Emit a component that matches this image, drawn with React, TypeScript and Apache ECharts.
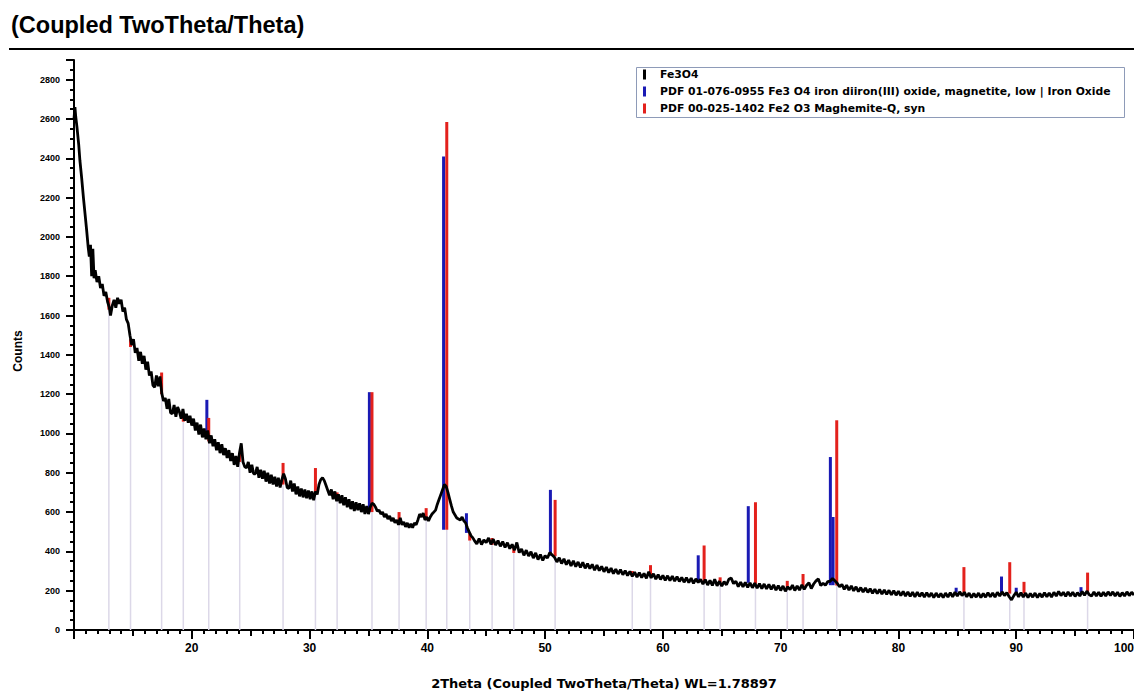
import React, { useEffect, useRef } from 'react';
import * as echarts from 'echarts';

const titleText = '(Coupled TwoTheta/Theta)';
const xAxisTitle = '2Theta (Coupled TwoTheta/Theta) WL=1.78897';
const yAxisTitle = 'Counts';
const scanLabel = 'Fe3O4';
const magnetiteLabel = 'PDF 01-076-0955 Fe3 O4 iron diiron(III) oxide, magnetite, low | Iron Oxide';
const maghemiteLabel = 'PDF 00-025-1402 Fe2 O3 Maghemite-Q, syn';

// measured scan, low-angle part: [2theta, counts]
const scanLow: number[][] = [
  [10.0, 2600], [10.08, 2660], [10.15, 2610], [10.25, 2560], [10.4, 2470], [10.5, 2390], [10.65, 2300], [10.8, 2200],
  [10.95, 2110], [11.08, 2030], [11.2, 1950], [11.3, 1900], [11.4, 1960], [11.5, 1800], [11.6, 1940], [11.7, 1790],
  [11.8, 1830], [11.95, 1770], [12.1, 1800], [12.25, 1740], [12.4, 1760], [12.55, 1700], [12.7, 1720], [12.85, 1670],
  [13.0, 1640], [13.1, 1600], [13.25, 1650], [13.4, 1680], [13.55, 1640], [13.7, 1690], [13.85, 1660], [14.0, 1680],
  [14.15, 1620], [14.3, 1640], [14.45, 1580], [14.6, 1560], [14.75, 1500], [14.9, 1450], [15.05, 1480], [15.2, 1410],
  [15.35, 1435], [15.5, 1370], [15.65, 1415], [15.8, 1355], [15.95, 1395], [16.1, 1325], [16.25, 1365], [16.4, 1295],
  [16.55, 1315], [16.7, 1245], [16.85, 1235], [17.0, 1295], [17.15, 1240], [17.3, 1290], [17.45, 1205], [17.6, 1165],
  [17.75, 1180], [17.9, 1125], [18.05, 1175], [18.2, 1105], [18.35, 1100], [18.5, 1145], [18.65, 1085], [18.8, 1135],
  [18.95, 1110], [19.1, 1075], [19.25, 1125], [19.4, 1065], [19.55, 1100], [19.7, 1055], [19.85, 1090], [20.0, 1040],
  [20.15, 1075], [20.3, 1015], [20.45, 1055], [20.6, 995], [20.75, 1045], [20.9, 980], [21.05, 1025], [21.2, 970],
  [21.35, 1015], [21.5, 950], [21.65, 990], [21.8, 935], [21.95, 970], [22.1, 915], [22.25, 955], [22.4, 900],
  [22.55, 945], [22.7, 890], [22.85, 925], [23.0, 875], [23.15, 915], [23.3, 860], [23.45, 900], [23.6, 840],
  [23.75, 885], [23.9, 830], [24.05, 900], [24.2, 950], [24.35, 855], [24.5, 830], [24.65, 825], [24.8, 855],
  [24.95, 800], [25.1, 840], [25.25, 795], [25.4, 795], [25.55, 830], [25.7, 775], [25.85, 815], [26.0, 770],
  [26.15, 810], [26.3, 755], [26.45, 800], [26.6, 745], [26.75, 790], [26.9, 740], [27.05, 780], [27.2, 730],
  [27.35, 775], [27.5, 725], [27.65, 765], [27.8, 795], [27.95, 770], [28.1, 725], [28.25, 720], [28.4, 760],
  [28.55, 705], [28.7, 745], [28.85, 690], [29.0, 730], [29.15, 680], [29.3, 720], [29.45, 675], [29.6, 715],
  [29.75, 670], [29.9, 710], [30.05, 665], [30.2, 705], [30.35, 660], [30.5, 705], [30.65, 690], [30.8, 740],
  [30.95, 765], [31.1, 775], [31.25, 760], [31.4, 735], [31.55, 710], [31.7, 685], [31.85, 715], [32.0, 665],
  [32.15, 705], [32.3, 655], [32.45, 690], [32.6, 645], [32.75, 685], [32.9, 635], [33.05, 675], [33.2, 625],
  [33.35, 665], [33.5, 615], [33.65, 655], [33.8, 605], [33.95, 650], [34.1, 610], [34.25, 645], [34.4, 600],
  [34.55, 640], [34.7, 590], [34.85, 630], [35.0, 590], [35.15, 625], [35.3, 645], [35.45, 640], [35.6, 625],
  [35.75, 605], [35.9, 610], [36.05, 590], [36.2, 600], [36.35, 575], [36.5, 590], [36.65, 565], [36.8, 580],
  [36.95, 555], [37.1, 570], [37.25, 545], [37.4, 560], [37.55, 535], [37.7, 570], [37.85, 535], [38.0, 550],
  [38.15, 525], [38.3, 545], [38.45, 520], [38.6, 540], [38.75, 520], [38.9, 545], [39.05, 535], [39.2, 560],
  [39.35, 590], [39.5, 575], [39.65, 595], [39.8, 560], [39.95, 575], [40.1, 555], [40.25, 575], [40.4, 590],
  [40.55, 600], [40.7, 610], [40.85, 640], [41.0, 665], [41.15, 690], [41.3, 715], [41.45, 740], [41.6, 730],
  [41.75, 700], [41.9, 665], [42.05, 630], [42.2, 600], [42.35, 585], [42.5, 570], [42.65, 565], [42.8, 560],
  [42.95, 575], [43.1, 555], [43.25, 545], [43.4, 520], [43.55, 500], [43.7, 480], [43.85, 470],
];

// measured scan, high-angle part: [2theta, counts]
const scanHigh: number[][] = [
  [44.0, 455], [44.2, 438], [44.4, 465], [44.6, 435], [44.8, 458], [45.0, 445], [45.2, 468], [45.4, 436],
  [45.6, 462], [45.8, 432], [46.0, 455], [46.2, 426], [46.4, 450], [46.6, 420], [46.8, 444], [47.0, 414],
  [47.2, 436], [47.4, 406], [47.6, 445], [47.8, 394], [48.0, 412], [48.2, 380], [48.4, 406], [48.6, 376],
  [48.8, 398], [49.0, 366], [49.2, 392], [49.4, 358], [49.6, 384], [49.8, 354], [50.0, 378], [50.2, 366],
  [50.4, 394], [50.6, 382], [50.8, 370], [51.0, 346], [51.2, 368], [51.4, 338], [51.6, 362], [51.8, 332],
  [52.0, 356], [52.2, 326], [52.4, 352], [52.6, 322], [52.8, 346], [53.0, 318], [53.2, 344], [53.4, 314],
  [53.6, 338], [53.8, 312], [54.0, 334], [54.2, 304], [54.4, 330], [54.6, 302], [54.8, 324], [55.0, 296],
  [55.2, 320], [55.4, 292], [55.6, 315], [55.8, 287], [56.0, 310], [56.2, 285], [56.4, 307], [56.6, 281],
  [56.8, 302], [57.0, 277], [57.2, 298], [57.4, 273], [57.6, 294], [57.8, 269], [58.0, 292], [58.2, 267],
  [58.4, 288], [58.6, 263], [58.8, 296], [59.0, 265], [59.2, 286], [59.4, 259], [59.6, 282], [59.8, 257],
  [60.0, 278], [60.2, 253], [60.4, 276], [60.6, 251], [60.8, 274], [61.0, 249], [61.2, 272], [61.4, 247],
  [61.6, 268], [61.8, 243], [62.0, 266], [62.2, 241], [62.4, 264], [62.6, 237], [62.8, 260], [63.0, 242],
  [63.2, 258], [63.4, 233], [63.6, 256], [63.8, 229], [64.0, 252], [64.2, 227], [64.4, 258], [64.6, 225],
  [64.8, 248], [65.0, 223], [65.2, 246], [65.4, 230], [65.6, 258], [65.8, 264], [66.0, 236], [66.2, 248],
  [66.4, 221], [66.6, 244], [66.8, 219], [67.0, 242], [67.2, 217], [67.4, 240], [67.6, 215], [67.8, 238],
  [68.0, 213], [68.2, 236], [68.4, 211], [68.6, 234], [68.8, 209], [69.0, 232], [69.2, 207], [69.4, 230],
  [69.6, 203], [69.8, 226], [70.0, 201], [70.2, 224], [70.4, 197], [70.6, 220], [70.8, 205], [71.0, 228],
  [71.2, 201], [71.4, 224], [71.6, 203], [71.8, 230], [72.0, 207], [72.2, 228], [72.4, 240], [72.6, 211],
  [72.8, 234], [73.0, 250], [73.2, 260], [73.4, 226], [73.6, 238], [73.8, 228], [74.0, 246], [74.2, 248],
  [74.4, 262], [74.6, 250], [74.8, 238], [75.0, 220], [75.2, 232], [75.4, 207], [75.6, 228], [75.8, 203],
  [76.0, 224], [76.2, 199], [76.4, 220], [76.6, 195], [76.8, 216], [77.0, 193], [77.2, 214], [77.4, 191],
  [77.6, 210], [77.8, 187], [78.0, 208], [78.2, 185], [78.4, 206], [78.6, 183], [78.8, 204], [79.0, 181],
  [79.2, 202], [79.4, 179], [79.6, 200], [79.8, 177], [80.0, 198], [80.2, 175], [80.4, 196], [80.6, 173],
  [80.8, 194], [81.0, 171], [81.2, 192], [81.4, 169], [81.6, 192], [81.8, 171], [82.0, 190], [82.2, 167],
  [82.4, 190], [82.6, 169], [82.8, 188], [83.0, 165], [83.2, 188], [83.4, 167], [83.6, 186], [83.8, 165],
  [84.0, 188], [84.2, 167], [84.4, 190], [84.6, 169], [84.8, 192], [85.0, 173], [85.2, 194], [85.4, 175],
  [85.6, 192], [85.8, 169], [86.0, 188], [86.2, 165], [86.4, 186], [86.6, 167], [86.8, 188], [87.0, 165],
  [87.2, 186], [87.4, 167], [87.6, 190], [87.8, 169], [88.0, 188], [88.2, 167], [88.4, 192], [88.6, 173],
  [88.8, 194], [89.0, 175], [89.2, 190], [89.4, 169], [89.6, 153], [89.8, 175], [90.0, 192], [90.2, 169],
  [90.4, 190], [90.6, 167], [90.8, 188], [91.0, 165], [91.2, 186], [91.4, 167], [91.6, 188], [91.8, 165],
  [92.0, 186], [92.2, 167], [92.4, 190], [92.6, 169], [92.8, 188], [93.0, 167], [93.2, 192], [93.4, 173],
  [93.6, 196], [93.8, 175], [94.0, 192], [94.2, 171], [94.4, 194], [94.6, 173], [94.8, 192], [95.0, 171],
  [95.2, 190], [95.4, 173], [95.6, 196], [95.8, 177], [96.0, 198], [96.2, 179], [96.4, 173], [96.6, 194],
  [96.8, 173], [97.0, 192], [97.2, 171], [97.4, 192], [97.6, 173], [97.8, 194], [98.0, 175], [98.2, 194],
  [98.4, 173], [98.6, 192], [98.8, 171], [99.0, 190], [99.2, 173], [99.4, 194], [99.6, 175], [99.8, 192],
  [100.0, 178],
];

// reference sticks (blue): magnetite
const magnetitePos = [21.28, 35.08, 41.38, 43.32, 50.45, 63.0, 67.25, 74.22, 74.45, 84.9, 88.75, 90.0, 95.5];
const magnetiteTop = [1171, 1210, 2409, 594, 713, 380, 630, 880, 575, 215, 272, 215, 218];
const magnetiteBase = [985, 600, 510, 494, 378, 250, 240, 228, 228, 190, 190, 190, 190];

// reference sticks (red): maghemite-Q
const maghemitePos = [12.96, 14.8, 17.44, 19.28, 21.44, 24.07, 27.75, 30.5, 32.34, 35.3, 37.6, 39.9, 41.65, 43.6, 45.5, 47.34, 50.85, 57.4, 58.95, 63.5, 64.86, 67.86, 70.56, 71.9, 74.76, 85.56, 89.45, 90.66, 96.06];
const maghemiteTop = [1690, 1480, 1310, 1100, 1079, 900, 850, 824, 700, 1210, 600, 620, 2585, 494, 468, 424, 662, 300, 330, 430, 268, 650, 250, 285, 1067, 320, 345, 245, 292];
const maghemiteBase = [1630, 1440, 1200, 1060, 960, 855, 740, 690, 660, 600, 545, 560, 510, 455, 433, 392, 375, 283, 275, 245, 240, 235, 215, 220, 226, 190, 185, 185, 185];

const FONT = '"Liberation Sans", Arial, Helvetica, sans-serif';
const WIDE = '"DejaVu Sans", Verdana, sans-serif';

export default function App() {
  const ref = useRef<HTMLDivElement>(null);
  useEffect(() => {
    document.body.style.margin = '0';
    const chart = echarts.init(ref.current as HTMLDivElement, null, { renderer: 'svg' });

    const stickRenderer = (color: string, width: number) => (params: any, api: any) => {
      const p0 = api.coord([api.value(0), api.value(1)]);
      const p1 = api.coord([api.value(0), api.value(2)]);
      return {
        type: 'line',
        shape: { x1: p0[0], y1: p0[1], x2: p1[0], y2: p1[1] },
        style: { stroke: color, lineWidth: width },
      };
    };

    const scan = scanLow.concat(scanHigh);
    const blueData = magnetitePos.map((p, i) => [p, magnetiteBase[i], magnetiteTop[i]]);
    const redData = maghemitePos.map((p, i) => [p, maghemiteBase[i], maghemiteTop[i]]);
    const dropData = maghemitePos.map((p, i) => [p, 0, maghemiteBase[i]]);

    const tickStyle = { color: '#000', width: 2 };

    chart.setOption({
      animation: false,
      backgroundColor: '#ffffff',
      title: {
        text: titleText,
        left: 11,
        top: 13,
        padding: 0,
        textStyle: { fontSize: 23.5, fontWeight: 'bold', color: '#000', fontFamily: FONT },
      },
      graphic: [
        { type: 'line', shape: { x1: 9, y1: 49, x2: 1134, y2: 49 }, style: { stroke: '#000', lineWidth: 2 } },
        { type: 'rect', shape: { x: 636.5, y: 67.5, width: 488, height: 50 }, style: { fill: 'none', stroke: '#8e9bb8', lineWidth: 1 }, z: 10 },
      ],
      legend: {
        orient: 'vertical',
        left: 643,
        top: 68,
        padding: 0,
        itemWidth: 3,
        itemHeight: 10,
        itemGap: 4,
        icon: 'rect',
        selectedMode: false,
        textStyle: { fontSize: 10.8, fontWeight: 'bold', color: '#000', fontFamily: WIDE, padding: [0, 0, 0, 9], lineHeight: 13 },
        data: [scanLabel, magnetiteLabel, maghemiteLabel],
      },
      grid: { left: 74, right: 0, top: 60, bottom: 61, containLabel: false, outerBoundsMode: 'none' },
      xAxis: [
        {
          type: 'value',
          min: 10,
          max: 100,
          interval: 10,
          name: xAxisTitle,
          nameLocation: 'middle',
          nameGap: 47,
          nameTextStyle: { fontSize: 13, fontWeight: 'bold', color: '#000', fontFamily: WIDE },
          axisLine: { show: true, lineStyle: { color: '#000', width: 2 } },
          axisTick: { show: true, length: 9, lineStyle: tickStyle },
          minorTick: { show: true, splitNumber: 10, length: 4, lineStyle: { color: '#000', width: 2 } },
          axisLabel: {
            color: '#000', fontWeight: 'bold', fontFamily: FONT, fontSize: 12, margin: 12,
            showMinLabel: false, hideOverlap: false, alignMaxLabel: 'right',
          },
          splitLine: { show: false },
        },
        {
          type: 'value',
          min: 10,
          max: 100,
          interval: 5,
          position: 'bottom',
          axisLine: { show: false },
          axisTick: { show: true, length: 6, lineStyle: tickStyle },
          axisLabel: { show: false },
          splitLine: { show: false },
        },
      ],
      yAxis: {
        type: 'value',
        min: 0,
        max: 2900,
        interval: 200,
        name: yAxisTitle,
        nameLocation: 'middle',
        nameRotate: 90,
        nameGap: 50,
        nameTextStyle: { fontSize: 12, fontWeight: 'bold', color: '#000', fontFamily: FONT, padding: [0, 12, 0, 0] },
        axisLine: { show: true, lineStyle: { color: '#000', width: 2 } },
        axisTick: { show: true, length: 8, lineStyle: tickStyle },
        minorTick: { show: true, splitNumber: 4, length: 4, lineStyle: { color: '#000', width: 2 } },
        axisLabel: {
          color: '#000', fontWeight: 'bold', fontFamily: FONT, fontSize: 9, margin: 14, showMaxLabel: false,
          formatter: (v: number) => String(v),
        },
        splitLine: { show: false },
      },
      series: [
        {
          name: 'drop',
          type: 'custom',
          xAxisIndex: 0,
          renderItem: stickRenderer('#dcd8e8', 1.5),
          encode: { x: 0, y: [1, 2] },
          data: dropData,
          silent: true,
          z: 1,
        },
        {
          name: magnetiteLabel,
          type: 'custom',
          xAxisIndex: 0,
          itemStyle: { color: '#1a1ab4' },
          renderItem: stickRenderer('#1a1ab4', 3),
          encode: { x: 0, y: [1, 2] },
          data: blueData,
          z: 2,
        },
        {
          name: maghemiteLabel,
          type: 'custom',
          xAxisIndex: 0,
          itemStyle: { color: '#e3211c' },
          renderItem: stickRenderer('#e3211c', 3),
          encode: { x: 0, y: [1, 2] },
          data: redData,
          z: 3,
        },
        {
          name: scanLabel,
          type: 'line',
          xAxisIndex: 0,
          data: scan,
          showSymbol: false,
          symbol: 'none',
          itemStyle: { color: '#000' },
          lineStyle: { color: '#000', width: 2.8 },
          z: 4,
        },
      ],
    });
    return () => chart.dispose();
  }, []);
  return <div ref={ref} style={{ width: 1134, height: 691 }} />;
}
